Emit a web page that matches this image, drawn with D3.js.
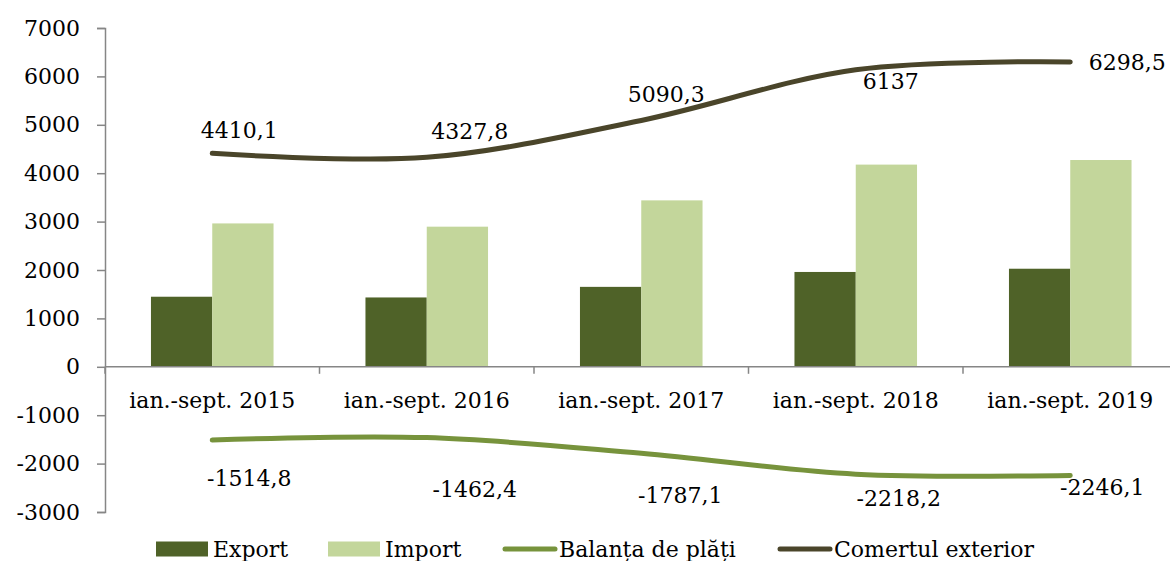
<!DOCTYPE html>
<html>
<head>
<meta charset="utf-8">
<script src="https://cdn.jsdelivr.net/npm/d3@7"></script>
<style>
  body { margin: 0; background: #fff; }
  svg text { font-family: "DejaVu Serif", serif; font-size: 22px; fill: #000; }
</style>
</head>
<body>
<div id="chart"></div>
<script>
'use strict';

// Data
var categories = ['ian.-sept. 2015', 'ian.-sept. 2016', 'ian.-sept. 2017', 'ian.-sept. 2018', 'ian.-sept. 2019']
var exportValues = [1447.7, 1432.7, 1651.6, 1959.4, 2026.2]
var importValues = [2962.4, 2895.1, 3438.7, 4177.6, 4272.3]
var balantaValues = [-1514.8, -1462.4, -1787.1, -2218.2, -2246.1]
var comertValues = [4410.1, 4327.8, 5090.3, 6137, 6298.5]
var yTicks = [-3000, -2000, -1000, 0, 1000, 2000, 3000, 4000, 5000, 6000, 7000]
var seriesNames = ['Export', 'Import', 'Balanța de plăți', 'Comertul exterior']

// label nudges (px from point to label centre), as placed in the original
var comertLabelShift = [[27, -23], [43, -26], [25, -26], [35, 12], [57, 0]]
var balantaLabelShift = [[37, 38], [48, 52], [39, 42], [43, 24], [32, 12]]

var colors = {
  Export: '#4f6228',
  Import: '#c3d69b',
  balanta: '#77933c',
  comert: '#4a452a',
  axis: '#868686'
}

var width = 1170, height = 561
var plot = {left: 105, right: 1177.5, top: 28, bottom: 512}

var svg = d3.select('#chart').append('svg')
    .attr('width', width)
    .attr('height', height)

var x0 = d3.scaleBand()
  .domain(categories)
  .range([plot.left, plot.right])
  .padding(0)

var x1 = d3.scaleBand()
  .domain(['Export', 'Import'])
  .range([0, x0.bandwidth()])
  .paddingInner(0)
  .paddingOuter(0.75)

var y = d3.scaleLinear()
  .domain([-3000, 7000])
  .range([plot.bottom, plot.top])

var cx = function(c) { return x0(c) + x0.bandwidth() / 2 }

// plain hyphen for negatives, like the original
var fmt = function(v) { return String(v).replace('.', ',') }

// Bars
var rows = categories.map(function(c, i) {
  return {cat: c, Export: exportValues[i], Import: importValues[i]}
})

var groups = svg.selectAll('g.cat')
    .data(rows)
  .enter().append('g')
    .attr('class', 'cat')
    .attr('transform', function(d) { return 'translate(' + x0(d.cat) + ',0)' })

groups.selectAll('rect')
    .data(function(d) { return ['Export', 'Import'].map(function(k) { return {key: k, val: d[k]} }) })
  .enter().append('rect')
    .attr('x', function(d) { return x1(d.key) })
    .attr('width', x1.bandwidth())
    .attr('y', function(d) { return y(d.val) })
    .attr('height', function(d) { return y(0) - y(d.val) })
    .style('fill', function(d) { return colors[d.key] })

// Axes
var yAxis = svg.append('g')
  .attr('transform', 'translate(' + plot.left + ',0)')
  .call(d3.axisLeft(y).tickValues(yTicks).tickSize(8).tickPadding(17).tickFormat(fmt))
yAxis.select('.domain').attr('stroke', colors.axis).attr('stroke-width', 1.5)
yAxis.selectAll('.tick line').attr('stroke', colors.axis).attr('stroke-width', 1.5)
yAxis.selectAll('.tick text')
  .style('font-family', '"DejaVu Serif", serif')
  .style('font-size', '22px')
  .attr('fill', '#000')

var xAxisLine = svg.append('g')
xAxisLine.append('line')
  .attr('x1', plot.left).attr('x2', plot.right)
  .attr('y1', y(0)).attr('y2', y(0))
  .attr('stroke', colors.axis).attr('stroke-width', 1.5)

var edges = categories.map(function(c) { return x0(c) }).concat([plot.right])
xAxisLine.selectAll('line.tk')
    .data(edges)
  .enter().append('line')
    .attr('class', 'tk')
    .attr('x1', function(d) { return d }).attr('x2', function(d) { return d })
    .attr('y1', y(0)).attr('y2', y(0) + 7)
    .attr('stroke', colors.axis).attr('stroke-width', 1.5)

xAxisLine.selectAll('text')
    .data(categories)
  .enter().append('text')
    .attr('x', cx)
    .attr('y', y(0) + 41)
    .attr('text-anchor', 'middle')
    .text(function(d) { return d })

// Lines (Excel style smoothing)
var line = d3.line()
  .x(function(d) { return cx(d.cat) })
  .y(function(d) { return y(d.val) })
  .curve(d3.curveCardinal.tension(0))

function drawSeries(values, color, shifts) {
  var pts = categories.map(function(c, i) { return {cat: c, val: values[i]} })
  svg.append('path')
    .datum(pts)
    .attr('d', line)
    .attr('fill', 'none')
    .attr('stroke', color)
    .attr('stroke-width', 5)
    .attr('stroke-linecap', 'round')
    .attr('stroke-linejoin', 'round')

  svg.selectAll(null)
      .data(pts)
    .enter().append('text')
      .attr('x', function(d, i) { return cx(d.cat) + shifts[i][0] })
      .attr('y', function(d, i) { return y(d.val) + shifts[i][1] })
      .attr('text-anchor', 'middle')
      .attr('dy', '0.35em')
      .text(function(d) { return fmt(d.val) })
}

drawSeries(balantaValues, colors.balanta, balantaLabelShift)
drawSeries(comertValues, colors.comert, comertLabelShift)

// Legend
var legendX = [156, 328, 503, 778]
var legendY = 549
var legendKinds = ['rect', 'rect', 'line', 'line']
var legendColors = [colors.Export, colors.Import, colors.balanta, colors.comert]

var legend = svg.append('g')
seriesNames.forEach(function(name, i) {
  var g = legend.append('g').attr('transform', 'translate(' + legendX[i] + ',' + legendY + ')')
  if (legendKinds[i] === 'rect') {
    g.append('rect')
      .attr('x', 0).attr('y', -7.5)
      .attr('width', 52).attr('height', 15)
      .style('fill', legendColors[i])
  } else {
    g.append('line')
      .attr('x1', 2).attr('x2', 52)
      .attr('y1', 0).attr('y2', 0)
      .attr('stroke', legendColors[i])
      .attr('stroke-width', 5)
      .attr('stroke-linecap', 'round')
  }
  g.append('text')
    .attr('x', legendKinds[i] === 'rect' ? 57 : 56)
    .attr('y', 0)
    .attr('dy', '0.35em')
    .text(name)
})
</script>
</body>
</html>
